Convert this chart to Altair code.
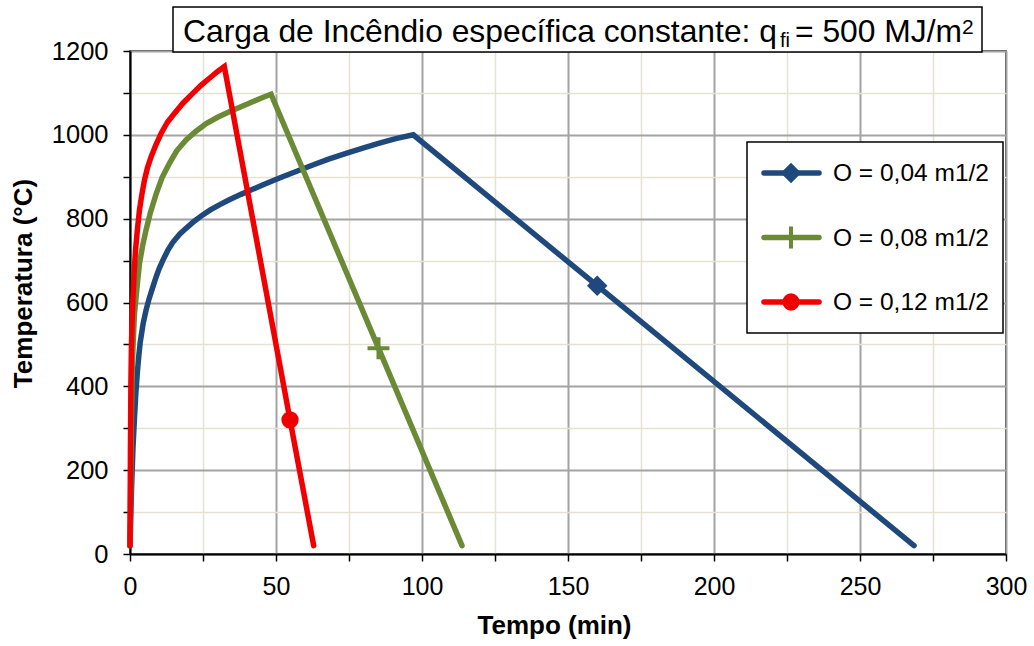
import altair as alt
import pandas as pd

FONT = "Liberation Sans"

# ---- data ----
series = ["O = 0,04 m1/2", "O = 0,08 m1/2", "O = 0,12 m1/2"]
colors = ["#1f497d", "#6b8a36", "#f00000"]

t_blue = [0, 0.5, 1.0, 1.5, 2.0, 2.5, 3.0, 3.5, 4.5, 5.5, 6.5, 7.5, 9.0, 10.0, 11.2, 13.0, 14.6, 17.0,
          19.2, 22.0, 24.9, 27.5, 30.6, 34, 38, 42, 46, 51.2, 56, 62.6, 68, 74, 80, 85.4, 91, 97,
          160, 268.5]
T_blue = [20, 150, 250, 320, 385, 432, 472, 505, 550, 582, 608, 630, 662, 681, 700, 725, 743, 763,
          777, 794, 809, 821, 833, 845, 858, 870, 882, 897, 910, 928, 942, 956, 969, 980, 991, 1000,
          640, 20]

t_green = [0, 0.25, 0.5, 0.75, 1.0, 1.5, 2.1, 2.6, 3.25, 4.3, 5.5, 7.0, 9.0, 11.0, 13.5, 16.0, 19.2,
           22.5, 26.1, 30, 34, 38, 42, 45, 48.3, 85.1, 113.7]
T_green = [20, 160, 330, 430, 490, 570, 615, 650, 693, 735, 773, 815, 860, 898, 932, 962, 988,
           1008, 1027, 1042, 1055, 1067, 1079, 1088, 1097, 491, 20]

t_red = [0, 0.15, 0.3, 0.5, 0.75, 1.0, 1.4, 1.9, 2.5, 3.25, 4.0, 4.96, 6.0, 7.25, 8.8, 10.7, 12.8,
         15.2, 18.2, 21.5, 24.3, 27.2, 29.8, 32.3, 54.8, 62.9]
T_red = [20, 250, 400, 500, 560, 610, 670, 725, 772, 821, 855, 892, 922, 948, 975, 1004, 1030,
         1051, 1076, 1099, 1118, 1135, 1150, 1163, 320, 20]

marker_t = [160, 85.1, 54.8]
marker_T = [640, 491, 320]

x_ticks = list(range(0, 301, 25))
y_ticks = list(range(0, 1201, 100))

title_main = "Carga de Incêndio específica constante: q"
title_sub = "fi"
title_rest = "= 500 MJ/m"
title_sup = "2"

# ---- tables ----
rows = []
for s, ts, Ts in zip(series, [t_blue, t_green, t_red], [T_blue, T_green, T_red]):
    for a, b in zip(ts, Ts):
        rows.append({"serie": s, "t": a, "T": b})
df = pd.DataFrame(rows)
mk = pd.DataFrame({"serie": series, "t": marker_t, "T": marker_T})
one = pd.DataFrame({"k": [0]})

W, H = 876, 503

major_x = "datum.value % 50 === 0"
major_y = "datum.value % 200 === 0"

x_axis = alt.Axis(
    values=x_ticks, format="d",
    labelExpr=f"{major_x} ? datum.label : ''",
    labelFont=FONT, labelFontSize=25, labelColor="#000", labelPadding=13,
    labelFlush=False, labelOverlap=False, labelBound=False,
    tickSize=7, tickColor="#000", tickWidth=1.5,
    domainColor="#000", domainWidth=2,
    grid=True,
    gridColor={"condition": {"test": major_x, "value": "#a3a3a3"}, "value": "#e6e2d2"},
    gridWidth={"condition": {"test": major_x, "value": 2}, "value": 1.5},
    title="Tempo (min)", titleFont=FONT, titleFontSize=26, titleFontWeight="bold",
    titleColor="#000", titleX=424, titleY=79, titleAlign="center", titleBaseline="alphabetic",
)
y_axis = alt.Axis(
    values=y_ticks, format="d",
    labelExpr=f"{major_y} ? datum.label : ''",
    labelFont=FONT, labelFontSize=25.5, labelColor="#000", labelPadding=15,
    labelOverlap=False, labelFlush=False, labelBound=False,
    tickSize=7, tickColor="#000", tickWidth=1.5,
    domainColor="#000", domainWidth=2,
    grid=True,
    gridColor={"condition": {"test": major_y, "value": "#a3a3a3"}, "value": "#e6e2d2"},
    gridWidth={"condition": {"test": major_y, "value": 2}, "value": 1.5},
    title="Temperatura (°C)", titleFont=FONT, titleFontSize=26, titleFontWeight="bold",
    titleColor="#000", titleX=-107, titleY=232, titleAngle=270,
    titleAlign="center", titleBaseline="middle",
)

xs = alt.Scale(domain=[0, 300], nice=False, zero=False)
ys = alt.Scale(domain=[0, 1200], nice=False)

lines = alt.Chart(df).mark_line(strokeWidth=5.5, strokeCap="round", strokeJoin="miter").encode(
    x=alt.X("t:Q", scale=xs, axis=x_axis),
    y=alt.Y("T:Q", scale=ys, axis=y_axis),
    color=alt.Color("serie:N", scale=alt.Scale(domain=series, range=colors), legend=None),
    order=alt.Order("t:Q"),
)

shapes = ["diamond", "M-1,0L1,0M0,-1L0,1", "circle"]
sizes = [420, 480, 300]
filled = [True, False, True]


def marker(i, data, x, y):
    m = alt.Chart(data).mark_point(
        shape=shapes[i], size=sizes[i], filled=filled[i], opacity=1,
        color=colors[i], strokeWidth=4 if not filled[i] else 0,
    )
    return m.encode(x=x, y=y)


pts = []
for i, s in enumerate(series):
    pts.append(
        marker(i, mk[mk["serie"] == s], alt.X("t:Q", scale=xs), alt.Y("T:Q", scale=ys))
    )

# ---- legend (manual, inside plot) ----
leg = [alt.Chart(one).mark_rect(fill="white", stroke="#000", strokeWidth=1.5).encode(
    x=alt.value(617), x2=alt.value(873), y=alt.value(91), y2=alt.value(282))]
row_y = [122, 186.5, 251]
for i, s in enumerate(series):
    yi = row_y[i]
    leg.append(alt.Chart(one).mark_rule(strokeWidth=5.5, strokeCap="round", color=colors[i]).encode(
        x=alt.value(634), x2=alt.value(689), y=alt.value(yi)))
    leg.append(marker(i, one, alt.value(661), alt.value(yi)))
    leg.append(alt.Chart(one).mark_text(align="left", baseline="middle", font=FONT, fontSize=24.5,
                                        color="#000").encode(
        x=alt.value(703), y=alt.value(yi + 1), text=alt.value(s)))

# ---- title box ----
tbox = [alt.Chart(one).mark_rect(fill="white", stroke="#000", strokeWidth=1.5).encode(
    x=alt.value(43), x2=alt.value(852), y=alt.value(-44), y2=alt.value(1))]
tbox.append(alt.Chart(one).mark_text(align="left", baseline="alphabetic", font=FONT, fontSize=31.8,
                                     color="#000").encode(
    x=alt.value(53), y=alt.value(-9), text=alt.value(title_main)))
tbox.append(alt.Chart(one).mark_text(align="left", baseline="alphabetic", font=FONT, fontSize=20,
                                     color="#000").encode(
    x=alt.value(650), y=alt.value(-4), text=alt.value(title_sub)))
tbox.append(alt.Chart(one).mark_text(align="left", baseline="alphabetic", font=FONT, fontSize=31.8,
                                     color="#000").encode(
    x=alt.value(665), y=alt.value(-9), text=alt.value(title_rest)))
tbox.append(alt.Chart(one).mark_text(align="left", baseline="alphabetic", font=FONT, fontSize=21,
                                     color="#000").encode(
    x=alt.value(832), y=alt.value(-17), text=alt.value(title_sup)))

chart = alt.layer(lines, *pts, *leg, *tbox).properties(
    width=W, height=H,
    autosize=alt.AutoSizeParams(type="none"),
    padding={"left": 130, "top": 51, "right": 28, "bottom": 92},
    background="white",
).configure_view(stroke="#000", strokeWidth=1.5)

chart.save("out.html", embed_options={"renderer": "svg", "actions": False})
